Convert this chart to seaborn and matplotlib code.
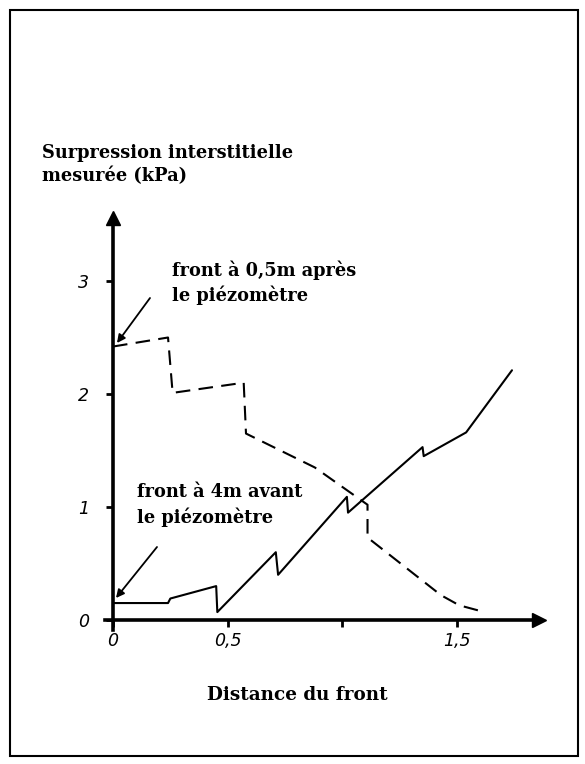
import matplotlib
matplotlib.use("Agg")
import matplotlib.pyplot as plt
import seaborn as sns
import pandas as pd
from matplotlib.patches import Rectangle

# ---- data ----
apres_x = [0.0, 0.24, 0.26, 0.57, 0.58, 0.88, 1.11, 1.11, 1.43, 1.51, 1.62]
apres_y = [2.42, 2.50, 2.01, 2.10, 1.65, 1.35, 1.02, 0.73, 0.22, 0.13, 0.07]

avant_x = [0.0, 0.24, 0.25, 0.45, 0.455, 0.71, 0.72, 1.02, 1.025, 1.35, 1.355, 1.54, 1.74]
avant_y = [0.15, 0.15, 0.19, 0.30, 0.07, 0.60, 0.40, 1.09, 0.95, 1.53, 1.45, 1.66, 2.21]

y_ticks = [0, 1, 2, 3]
y_tick_labels = ["0", "1", "2", "3"]
x_ticks = [0, 0.5, 1.0, 1.5]
x_tick_labels = ["0", "0,5", "", "1,5"]

y_title = "Surpression interstitielle\nmesurée (kPa)"
x_title = "Distance du front"
note_apres = "front à 0,5m après\nle piézomètre"
note_avant = "front à 4m avant\nle piézomètre"

sns.set_theme(style="white")
plt.rcParams["font.family"] = ["DejaVu Serif", "DejaVu Sans"]
plt.rcParams["text.color"] = "black"
plt.rcParams["xtick.color"] = "black"
plt.rcParams["ytick.color"] = "black"

W, H = 585, 764
fig = plt.figure(figsize=(W / 100, H / 100), dpi=100)

def fx(px):
    return px / W

def fy(py):
    return 1 - py / H

# axes: data 0 at px 113 (x), px 620 (y); 229 px / unit in x, 113 px / unit in y
xmin, xmax = -0.035, 1.86
ymin, ymax = -0.09, 3.56
x0px, y0px = 113, 620
sx, sy = 229.3, 113.0
left = x0px + xmin * sx
right = x0px + xmax * sx
bottom = y0px - ymin * sy
top = y0px - ymax * sy
ax = fig.add_axes([fx(left), fy(bottom), fx(right) - fx(left), fy(top) - fy(bottom)])
ax.set_xlim(xmin, xmax)
ax.set_ylim(ymin, ymax)
ax.patch.set_alpha(0)

df_apres = pd.DataFrame({"x": apres_x, "y": apres_y})
df_avant = pd.DataFrame({"x": avant_x, "y": avant_y})
sns.lineplot(data=df_apres, x="x", y="y", sort=False, estimator=None, ax=ax,
             color="black", lw=1.5, dashes=False, linestyle=(0, (7, 4)))
sns.lineplot(data=df_avant, x="x", y="y", sort=False, estimator=None, ax=ax,
             color="black", lw=1.5)
for ln in ax.lines:
    ln.set_clip_on(False)

for s in ["top", "right"]:
    ax.spines[s].set_visible(False)
ax.spines["left"].set_position(("data", 0))
ax.spines["bottom"].set_position(("data", 0))
ax.spines["left"].set_bounds(ymin, ymax)
ax.spines["bottom"].set_bounds(xmin, xmax)
for s in ["left", "bottom"]:
    ax.spines[s].set_linewidth(2.6)
    ax.spines[s].set_color("black")

# arrow heads
ax.plot([0], [ymax], marker="^", ms=10, color="black", clip_on=False)
ax.plot([xmax], [0], marker=">", ms=10, color="black", clip_on=False)

ax.set_xticks(x_ticks)
ax.set_xticklabels(x_tick_labels)
ax.set_yticks(y_ticks)
ax.set_yticklabels(y_tick_labels)
ax.tick_params(axis="both", direction="out", length=5, width=2, color="black",
               labelsize=12.5, labelcolor="black", bottom=True, left=True)
ax.tick_params(axis="y", pad=12)
ax.tick_params(axis="x", pad=4)
for lab in ax.get_xticklabels() + ax.get_yticklabels():
    lab.set_fontstyle("italic")
    lab.set_family(["DejaVu Sans"])
ax.set_xlabel("")
ax.set_ylabel("")

# titles
fig.text(fx(42), fy(144), y_title, ha="left", va="top", fontsize=12.8,
         fontweight="bold", linespacing=1.35, color="black")
fig.text(fx(297), fy(695), x_title, ha="center", va="center", fontsize=13.2,
         fontweight="bold", color="black")

# annotations
fig.text(fx(172), fy(260), note_apres, ha="left", va="top", fontsize=12.8,
         fontweight="bold", linespacing=1.4, color="black")
fig.text(fx(137), fy(483), note_avant, ha="left", va="top", fontsize=12.8,
         fontweight="bold", linespacing=1.4, color="black")
arrow_kw = dict(arrowstyle="-|>", color="black", lw=1.3, mutation_scale=12,
                shrinkA=0, shrinkB=0)
ax.annotate("", xy=(fx(117), fy(343)), xytext=(fx(150), fy(298)),
            xycoords="figure fraction", textcoords="figure fraction",
            arrowprops=arrow_kw, annotation_clip=False)
ax.annotate("", xy=(fx(116), fy(598)), xytext=(fx(157), fy(547)),
            xycoords="figure fraction", textcoords="figure fraction",
            arrowprops=arrow_kw, annotation_clip=False)

# frame
fig.patches.append(Rectangle((fx(10), fy(756)), fx(578) - fx(10), fy(10) - fy(756),
                             transform=fig.transFigure, fill=False,
                             edgecolor="black", lw=1.5))

fig.savefig("out.png", dpi=100)
